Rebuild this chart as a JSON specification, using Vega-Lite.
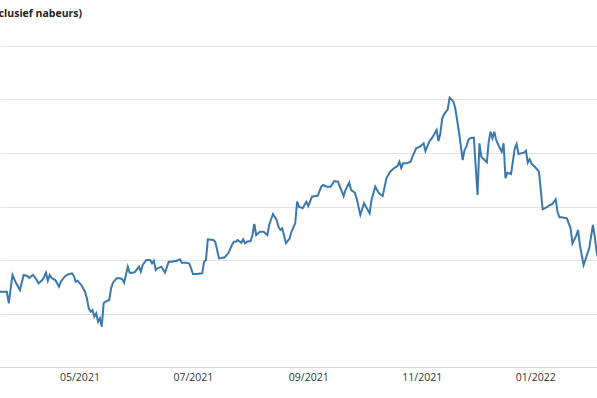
{
  "$schema": "https://vega.github.io/schema/vega-lite/v6.json",
  "width": 597,
  "height": 321,
  "autosize": {"type": "none"},
  "padding": {"left": 0, "top": 46, "right": 0, "bottom": 31},
  "background": "white",
  "config": {"view": {"stroke": null}, "font": "Open Sans"},
  "title": {"text": "(inclusief nabeurs)", "anchor": "start", "frame": "group", "dx": -15, "offset": 27, "fontSize": 10.5, "fontWeight": "bold", "font": "Open Sans", "color": "#222222"},
  "data": {"values": [
    {"dag": "2021-03-17", "koers": 54.0},
    {"dag": "2021-03-19", "koers": 54.07},
    {"dag": "2021-03-23", "koers": 54.07},
    {"dag": "2021-03-24", "koers": 51.91},
    {"dag": "2021-03-26", "koers": 57.20},
    {"dag": "2021-03-28", "koers": 55.64},
    {"dag": "2021-03-30", "koers": 54.39},
    {"dag": "2021-04-01", "koers": 57.20},
    {"dag": "2021-04-03", "koers": 57.01},
    {"dag": "2021-04-04", "koers": 56.64},
    {"dag": "2021-04-06", "koers": 57.20},
    {"dag": "2021-04-07", "koers": 56.82},
    {"dag": "2021-04-08", "koers": 56.26},
    {"dag": "2021-04-09", "koers": 55.64},
    {"dag": "2021-04-11", "koers": 56.26},
    {"dag": "2021-04-12", "koers": 56.82},
    {"dag": "2021-04-13", "koers": 57.63},
    {"dag": "2021-04-14", "koers": 56.13},
    {"dag": "2021-04-15", "koers": 57.20},
    {"dag": "2021-04-16", "koers": 56.64},
    {"dag": "2021-04-18", "koers": 56.26},
    {"dag": "2021-04-19", "koers": 55.64},
    {"dag": "2021-04-20", "koers": 55.01},
    {"dag": "2021-04-21", "koers": 55.94},
    {"dag": "2021-04-23", "koers": 56.88},
    {"dag": "2021-04-25", "koers": 57.33},
    {"dag": "2021-04-27", "koers": 57.51},
    {"dag": "2021-04-28", "koers": 57.01},
    {"dag": "2021-04-29", "koers": 55.94},
    {"dag": "2021-04-30", "koers": 56.13},
    {"dag": "2021-05-02", "koers": 55.33},
    {"dag": "2021-05-04", "koers": 54.07},
    {"dag": "2021-05-05", "koers": 52.84},
    {"dag": "2021-05-06", "koers": 50.97},
    {"dag": "2021-05-07", "koers": 50.34},
    {"dag": "2021-05-08", "koers": 50.65},
    {"dag": "2021-05-09", "koers": 49.40},
    {"dag": "2021-05-10", "koers": 50.04},
    {"dag": "2021-05-11", "koers": 48.47},
    {"dag": "2021-05-12", "koers": 49.10},
    {"dag": "2021-05-13", "koers": 47.53},
    {"dag": "2021-05-14", "koers": 51.91},
    {"dag": "2021-05-15", "koers": 52.21},
    {"dag": "2021-05-17", "koers": 52.52},
    {"dag": "2021-05-18", "koers": 54.71},
    {"dag": "2021-05-19", "koers": 55.76},
    {"dag": "2021-05-21", "koers": 56.58},
    {"dag": "2021-05-23", "koers": 56.58},
    {"dag": "2021-05-24", "koers": 56.39},
    {"dag": "2021-05-25", "koers": 55.76},
    {"dag": "2021-05-27", "koers": 58.75},
    {"dag": "2021-05-28", "koers": 57.63},
    {"dag": "2021-05-30", "koers": 57.63},
    {"dag": "2021-05-31", "koers": 57.81},
    {"dag": "2021-06-02", "koers": 58.75},
    {"dag": "2021-06-03", "koers": 57.81},
    {"dag": "2021-06-04", "koers": 59.07},
    {"dag": "2021-06-06", "koers": 60.00},
    {"dag": "2021-06-08", "koers": 60.00},
    {"dag": "2021-06-09", "koers": 59.38},
    {"dag": "2021-06-10", "koers": 59.87},
    {"dag": "2021-06-11", "koers": 58.13},
    {"dag": "2021-06-12", "koers": 58.45},
    {"dag": "2021-06-14", "koers": 58.75},
    {"dag": "2021-06-16", "koers": 57.63},
    {"dag": "2021-06-18", "koers": 59.68},
    {"dag": "2021-06-20", "koers": 59.68},
    {"dag": "2021-06-21", "koers": 59.81},
    {"dag": "2021-06-22", "koers": 59.81},
    {"dag": "2021-06-24", "koers": 60.13},
    {"dag": "2021-06-25", "koers": 59.50},
    {"dag": "2021-06-27", "koers": 59.50},
    {"dag": "2021-06-29", "koers": 59.38},
    {"dag": "2021-06-30", "koers": 58.45},
    {"dag": "2021-07-01", "koers": 57.38},
    {"dag": "2021-07-03", "koers": 57.38},
    {"dag": "2021-07-06", "koers": 57.51},
    {"dag": "2021-07-07", "koers": 59.68},
    {"dag": "2021-07-08", "koers": 60.00},
    {"dag": "2021-07-09", "koers": 63.87},
    {"dag": "2021-07-12", "koers": 63.74},
    {"dag": "2021-07-13", "koers": 63.42},
    {"dag": "2021-07-15", "koers": 60.32},
    {"dag": "2021-07-16", "koers": 60.32},
    {"dag": "2021-07-18", "koers": 60.50},
    {"dag": "2021-07-20", "koers": 61.25},
    {"dag": "2021-07-22", "koers": 62.80},
    {"dag": "2021-07-23", "koers": 63.42},
    {"dag": "2021-07-24", "koers": 63.42},
    {"dag": "2021-07-25", "koers": 63.74},
    {"dag": "2021-07-27", "koers": 63.23},
    {"dag": "2021-07-28", "koers": 63.87},
    {"dag": "2021-07-29", "koers": 63.12},
    {"dag": "2021-07-30", "koers": 63.42},
    {"dag": "2021-08-01", "koers": 63.55},
    {"dag": "2021-08-02", "koers": 64.67},
    {"dag": "2021-08-03", "koers": 66.73},
    {"dag": "2021-08-04", "koers": 64.67},
    {"dag": "2021-08-06", "koers": 65.29},
    {"dag": "2021-08-08", "koers": 65.29},
    {"dag": "2021-08-10", "koers": 64.67},
    {"dag": "2021-08-11", "koers": 66.54},
    {"dag": "2021-08-13", "koers": 68.60},
    {"dag": "2021-08-15", "koers": 67.48},
    {"dag": "2021-08-16", "koers": 66.22},
    {"dag": "2021-08-17", "koers": 65.61},
    {"dag": "2021-08-18", "koers": 65.93},
    {"dag": "2021-08-20", "koers": 63.12},
    {"dag": "2021-08-22", "koers": 64.06},
    {"dag": "2021-08-23", "koers": 65.29},
    {"dag": "2021-08-25", "koers": 66.86},
    {"dag": "2021-08-26", "koers": 70.90},
    {"dag": "2021-08-27", "koers": 69.96},
    {"dag": "2021-08-29", "koers": 69.66},
    {"dag": "2021-08-31", "koers": 70.90},
    {"dag": "2021-09-01", "koers": 70.09},
    {"dag": "2021-09-03", "koers": 71.83},
    {"dag": "2021-09-05", "koers": 71.96},
    {"dag": "2021-09-06", "koers": 71.96},
    {"dag": "2021-09-08", "koers": 73.70},
    {"dag": "2021-09-09", "koers": 74.02},
    {"dag": "2021-09-11", "koers": 73.70},
    {"dag": "2021-09-13", "koers": 73.70},
    {"dag": "2021-09-15", "koers": 74.77},
    {"dag": "2021-09-17", "koers": 74.64},
    {"dag": "2021-09-18", "koers": 73.70},
    {"dag": "2021-09-20", "koers": 71.96},
    {"dag": "2021-09-21", "koers": 73.08},
    {"dag": "2021-09-23", "koers": 74.45},
    {"dag": "2021-09-24", "koers": 73.08},
    {"dag": "2021-09-26", "koers": 72.58},
    {"dag": "2021-09-27", "koers": 71.53},
    {"dag": "2021-09-29", "koers": 68.41},
    {"dag": "2021-10-01", "koers": 70.60},
    {"dag": "2021-10-02", "koers": 69.96},
    {"dag": "2021-10-04", "koers": 68.73},
    {"dag": "2021-10-05", "koers": 71.21},
    {"dag": "2021-10-07", "koers": 73.70},
    {"dag": "2021-10-09", "koers": 72.47},
    {"dag": "2021-10-11", "koers": 71.96},
    {"dag": "2021-10-13", "koers": 75.27},
    {"dag": "2021-10-15", "koers": 76.50},
    {"dag": "2021-10-17", "koers": 77.14},
    {"dag": "2021-10-19", "koers": 77.57},
    {"dag": "2021-10-20", "koers": 78.37},
    {"dag": "2021-10-21", "koers": 77.20},
    {"dag": "2021-10-22", "koers": 78.07},
    {"dag": "2021-10-24", "koers": 78.07},
    {"dag": "2021-10-26", "koers": 78.37},
    {"dag": "2021-10-27", "koers": 79.31},
    {"dag": "2021-10-29", "koers": 80.88},
    {"dag": "2021-10-31", "koers": 81.18},
    {"dag": "2021-11-02", "koers": 81.81},
    {"dag": "2021-11-03", "koers": 80.37},
    {"dag": "2021-11-05", "koers": 82.11},
    {"dag": "2021-11-07", "koers": 83.05},
    {"dag": "2021-11-09", "koers": 84.30},
    {"dag": "2021-11-10", "koers": 82.24},
    {"dag": "2021-11-11", "koers": 83.68},
    {"dag": "2021-11-12", "koers": 86.49},
    {"dag": "2021-11-13", "koers": 87.23},
    {"dag": "2021-11-15", "koers": 88.22},
    {"dag": "2021-11-16", "koers": 90.34},
    {"dag": "2021-11-18", "koers": 89.59},
    {"dag": "2021-11-19", "koers": 88.36},
    {"dag": "2021-11-21", "koers": 83.98},
    {"dag": "2021-11-23", "koers": 78.69},
    {"dag": "2021-11-24", "koers": 80.56},
    {"dag": "2021-11-25", "koers": 81.18},
    {"dag": "2021-11-26", "koers": 82.43},
    {"dag": "2021-11-27", "koers": 82.75},
    {"dag": "2021-11-29", "koers": 82.86},
    {"dag": "2021-12-01", "koers": 72.15},
    {"dag": "2021-12-02", "koers": 81.81},
    {"dag": "2021-12-03", "koers": 79.31},
    {"dag": "2021-12-06", "koers": 78.26},
    {"dag": "2021-12-07", "koers": 82.11},
    {"dag": "2021-12-08", "koers": 83.98},
    {"dag": "2021-12-09", "koers": 82.75},
    {"dag": "2021-12-10", "koers": 83.98},
    {"dag": "2021-12-11", "koers": 82.43},
    {"dag": "2021-12-13", "koers": 80.88},
    {"dag": "2021-12-14", "koers": 80.24},
    {"dag": "2021-12-15", "koers": 81.81},
    {"dag": "2021-12-16", "koers": 75.27},
    {"dag": "2021-12-17", "koers": 76.32},
    {"dag": "2021-12-19", "koers": 76.07},
    {"dag": "2021-12-21", "koers": 80.88},
    {"dag": "2021-12-22", "koers": 81.68},
    {"dag": "2021-12-23", "koers": 79.81},
    {"dag": "2021-12-26", "koers": 80.06},
    {"dag": "2021-12-27", "koers": 80.43},
    {"dag": "2021-12-28", "koers": 78.19},
    {"dag": "2021-12-29", "koers": 78.82},
    {"dag": "2021-12-30", "koers": 78.07},
    {"dag": "2022-01-01", "koers": 77.33},
    {"dag": "2022-01-03", "koers": 76.50},
    {"dag": "2022-01-05", "koers": 69.48},
    {"dag": "2022-01-07", "koers": 69.85},
    {"dag": "2022-01-09", "koers": 70.28},
    {"dag": "2022-01-10", "koers": 70.41},
    {"dag": "2022-01-12", "koers": 71.35},
    {"dag": "2022-01-13", "koers": 69.03},
    {"dag": "2022-01-14", "koers": 67.98},
    {"dag": "2022-01-15", "koers": 67.98},
    {"dag": "2022-01-18", "koers": 67.79},
    {"dag": "2022-01-20", "koers": 65.93},
    {"dag": "2022-01-21", "koers": 63.12},
    {"dag": "2022-01-23", "koers": 64.49},
    {"dag": "2022-01-24", "koers": 65.61},
    {"dag": "2022-01-25", "koers": 62.80},
    {"dag": "2022-01-27", "koers": 59.07},
    {"dag": "2022-01-30", "koers": 62.19},
    {"dag": "2022-02-01", "koers": 66.54},
    {"dag": "2022-02-02", "koers": 64.36},
    {"dag": "2022-02-03", "koers": 61.55},
    {"dag": "2022-02-05", "koers": 58.5}
  ]},
  "mark": {"type": "line", "color": "#3b79ad", "strokeWidth": 2, "clip": true},
  "encoding": {
    "x": {
      "field": "dag", "type": "temporal",
      "scale": {"type": "utc", "domain": [{"year": 2021, "month": 3, "date": 19, "hours": 7, "utc": true}, {"year": 2022, "month": 2, "date": 3, "hours": 5, "utc": true}]},
      "axis": {
        "title": null, "format": "%m/%Y", "grid": false, "ticks": false, "tickSize": 0,
        "values": [
          {"year": 2021, "month": 5, "date": 1, "utc": true},
          {"year": 2021, "month": 7, "date": 1, "utc": true},
          {"year": 2021, "month": 9, "date": 1, "utc": true},
          {"year": 2021, "month": 11, "date": 1, "utc": true},
          {"year": 2022, "month": 1, "date": 1, "utc": true}
        ],
        "domainColor": "#d6d6d6", "domainWidth": 1,
        "labelFont": "Open Sans", "labelFontSize": 10.5, "labelColor": "#333333", "labelPadding": 5, "labelFlush": false
      }
    },
    "y": {
      "field": "koers", "type": "quantitative",
      "scale": {"domain": [40, 100], "nice": false, "zero": false},
      "axis": {"title": null, "labels": false, "ticks": false, "domain": false, "grid": true, "gridColor": "#e3e3e3", "values": [40, 50, 60, 70, 80, 90, 100]}
    }
  }
}
